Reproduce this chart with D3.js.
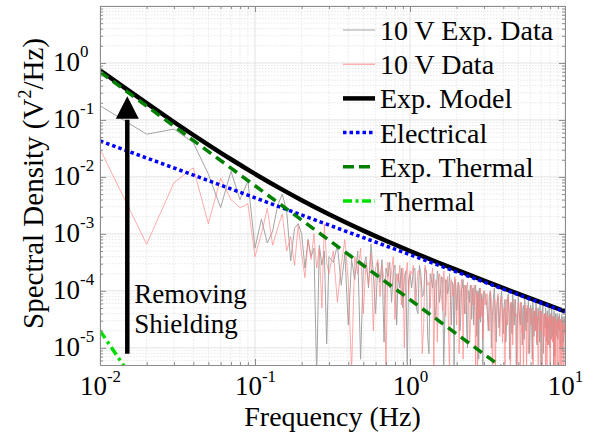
<!DOCTYPE html>
<html>
<head>
<meta charset="utf-8">
<script src="https://cdn.jsdelivr.net/npm/d3@7"></script>
<style>
  html, body { margin: 0; padding: 0; background: #fff; }
  svg { display: block; }
</style>
</head>
<body>
<svg id="chart" width="594" height="435" font-family="'Liberation Serif', 'DejaVu Serif', 'Times New Roman', Times, serif"></svg>
<script>
// ---------------- DATA ----------------
// Frequency bins (Hz) of the measured spectra
const freqSeg1 = [0.01,0.02,0.03,0.04,0.05,0.06,0.07,0.08,0.09,0.10,0.11,0.12,0.13,0.14,0.15,0.16,0.17,0.18,0.19,0.20,0.21,0.22,0.23,0.24,0.25,0.26,0.27,0.28,0.29,0.30];
const freqSeg2 = [0.32,0.34,0.36,0.38,0.40,0.42,0.44,0.46,0.48,0.50,0.52,0.54,0.56,0.58,0.60,0.62,0.64,0.66,0.68,0.70,0.72,0.74,0.76,0.78,0.80,0.82,0.84,0.86,0.88,0.90,0.92,0.94,0.96,0.98,1.00];
const freqSeg3 = [1.05,1.10,1.15,1.20,1.25,1.30,1.35,1.40,1.45,1.50,1.55,1.60,1.65,1.70,1.75,1.80,1.85,1.90,1.95,2.00,2.05,2.10,2.15,2.20,2.25,2.30,2.35,2.40,2.45,2.50,2.55,2.60,2.65,2.70,2.75,2.80,2.85,2.90,2.95,3.00];
const freqSeg4 = [3.1,3.2,3.3,3.4,3.5,3.6,3.7,3.8,3.9,4.0,4.1,4.2,4.3,4.4,4.5,4.6,4.7,4.8,4.9,5.0,5.1,5.2,5.3,5.4,5.5,5.6,5.7,5.8,5.9,6.0,6.1,6.2,6.3,6.4,6.5,6.6,6.7,6.8,6.9,7.0,7.1,7.2,7.3,7.4,7.5,7.6,7.7,7.8,7.9,8.0,8.1,8.2,8.3,8.4,8.5,8.6,8.7,8.8,8.9,9.0,9.1,9.2,9.3,9.4,9.5,9.6,9.7,9.8,9.9,10.0];
const freqSeg3b = [1.025,1.075,1.125,1.175,1.225,1.275,1.325,1.375,1.425,1.475,1.525,1.575,1.625,1.675,1.725,1.775,1.825,1.875,1.925,1.975,2.025,2.075,2.125,2.175,2.225,2.275,2.325,2.375,2.425,2.475,2.525,2.575,2.625,2.675,2.725,2.775,2.825,2.875,2.925,2.975];
const freqSeg4b = [3.05,3.15,3.25,3.35,3.45,3.55,3.65,3.75,3.85,3.95,4.05,4.15,4.25,4.35,4.45,4.55,4.65,4.75,4.85,4.95,5.05,5.15,5.25,5.35,5.45,5.55,5.65,5.75,5.85,5.95,6.05,6.15,6.25,6.35,6.45,6.55,6.65,6.75,6.85,6.95,7.05,7.15,7.25,7.35,7.45,7.55,7.65,7.75,7.85,7.95,8.05,8.15,8.25,8.35,8.45,8.55,8.65,8.75,8.85,8.95,9.05,9.15,9.25,9.35,9.45,9.55,9.65,9.75,9.85,9.95];

// "10 V Exp. Data" spectral density, log10(V^2/Hz) (seg1..seg4)
const expDataLog10 = [
  -0.75,-1.25,-1.16,-1.40,-1.95,-2.54,-1.90,-2.40,-2.07,-3.25,-2.74,-3.16,-2.95,-2.50,-2.30,-2.60,-3.47,-2.90,-2.82,-3.00,-3.60,-3.10,-3.40,-3.25,-5.50,-3.20,-3.55,-3.30,-4.93,-3.40,
  -3.50,-3.20,-3.90,-3.35,-4.60,-3.45,-3.80,-3.30,-5.20,-3.60,-3.40,-3.95,-3.18,-3.70,-4.40,-3.50,-3.85,-3.45,-4.90,-3.60,-3.75,-3.50,-4.20,-3.65,-3.55,-4.60,-3.70,-3.95,-3.60,-4.30,-3.75,-3.65,-5.40,-3.80,-3.70,
  -3.65,-4.30,-3.55,-4.10,-3.60,-4.80,-3.70,-3.95,-4.50,-3.65,-4.20,-3.75,-5.40,-3.80,-4.05,-3.70,-4.60,-3.90,-3.80,-4.35,-3.85,-4.70,-3.95,-3.80,-4.40,-3.90,-5.00,-4.00,-3.90,-4.50,-3.95,-4.25,-3.90,-4.80,-4.00,-3.95,-4.55,-4.05,-5.30,-4.00,
  -4.15,-4.70,-4.00,-4.45,-3.95,-4.90,-4.10,-4.40,-4.00,-4.75,-4.15,-4.55,-4.05,-5.20,-4.20,-4.05,-4.60,-4.15,-4.85,-4.10,-4.50,-4.20,-4.95,-4.25,-4.10,-4.70,-4.30,-4.15,-5.10,-4.25,-4.60,-4.20,-4.80,-4.35,-4.20,-4.95,-4.30,-4.65,-4.25,-5.30,-4.35,-4.25,-4.75,-4.40,-4.30,-4.90,-4.35,-4.70,-4.30,-5.00,-4.40,-4.30,-4.80,-4.45,-4.35,-5.15,-4.40,-4.75,-4.40,-4.85,-4.45,-4.40,-4.95,-4.50,-4.42,-5.05,-4.45,-4.80,-4.45,-4.60
];
const expDataLog10b = [
  -3.95,-3.60,-4.40,-3.70,-4.05,-3.65,-5.10,-3.80,-3.70,-4.25,-3.75,-4.00,-3.80,-4.55,-3.85,-3.95,-4.15,-3.85,-5.30,-3.90,
  -4.05,-3.90,-4.45,-3.95,-4.10,-3.95,-4.75,-4.00,-4.20,-4.00,-4.05,-4.60,-4.05,-4.15,-4.05,-5.20,-4.10,-4.30,-4.10,-4.40,
  -4.05,-4.35,-4.10,-5.00,-4.15,-4.30,-4.20,-4.65,-4.15,-4.40,-4.25,-4.90,-4.20,-4.40,-4.25,-4.75,-4.30,-4.25,-5.30,-4.35,
  -4.30,-4.60,-4.35,-4.30,-4.85,-4.40,-4.35,-4.55,-4.40,-4.75,-4.35,-5.20,-4.40,-4.45,-4.70,-4.40,-4.55,-4.45,-4.90,-4.45,
  -4.50,-4.40,-5.10,-4.45,-4.65,-4.50,-4.45,-4.95,-4.50,-4.60,-4.50,-4.85,-4.50,-4.45,-5.30,-4.55,-4.65,-4.50,-4.80,-4.55,
  -4.50,-4.70,-4.55,-5.00,-4.55,-4.65,-4.50,-4.90,-4.55,-4.70
];

// "10 V Data" spectral density, log10(V^2/Hz) (seg1..seg4)
const dataLog10 = [
  -1.51,-3.18,-2.10,-1.84,-2.82,-2.02,-2.40,-2.54,-2.47,-3.40,-3.00,-2.55,-3.20,-2.90,-2.65,-3.30,-3.05,-3.55,-2.85,-3.35,-3.77,-3.10,-3.45,-3.00,-3.60,-3.25,-4.30,-2.82,-3.50,-3.70,
  -3.30,-4.20,-3.55,-3.10,-3.85,-5.40,-3.40,-3.70,-3.25,-4.40,-3.50,-3.90,-3.35,-4.70,-3.60,-3.45,-4.10,-3.55,-3.80,-5.30,-3.50,-3.95,-3.65,-3.40,-4.50,-3.70,-3.85,-3.55,-4.25,-3.60,-5.00,-3.75,-3.50,-4.05,-3.65,
  -3.55,-4.05,-3.65,-5.10,-3.55,-3.90,-4.30,-3.60,-3.95,-4.90,-3.70,-4.15,-3.65,-4.45,-3.75,-5.40,-3.80,-4.10,-3.75,-4.60,-3.85,-4.20,-3.80,-5.20,-3.90,-4.35,-3.85,-4.15,-4.70,-3.90,-4.25,-3.90,-5.30,-4.00,-4.05,-4.50,-3.95,-4.30,-4.85,-4.00,
  -4.10,-4.60,-4.00,-5.50,-4.15,-4.45,-4.05,-4.80,-4.10,-4.50,-5.50,-4.15,-4.10,-4.70,-4.20,-4.95,-4.15,-4.45,-5.50,-4.20,-4.55,-4.20,-4.75,-5.50,-4.25,-4.50,-4.25,-5.10,-4.30,-4.60,-4.30,-5.50,-4.35,-4.70,-4.30,-4.55,-5.50,-4.35,-4.65,-4.35,-5.20,-4.40,-4.75,-4.40,-5.50,-4.45,-4.40,-4.85,-4.45,-5.50,-4.50,-4.40,-4.90,-4.45,-5.50,-4.45,-4.70,-4.50,-5.50,-4.55,-4.45,-4.95,-4.50,-5.50,-4.50,-4.75,-4.55,-5.50,-4.60,-4.50
];
const dataLog10b = [
  -3.70,-4.20,-3.65,-3.90,-4.60,-3.70,-3.85,-3.75,-5.30,-3.80,-4.10,-3.80,-4.35,-3.85,-3.95,-4.80,-3.90,-4.00,-3.90,-4.25,
  -3.95,-5.10,-4.00,-4.05,-3.95,-4.40,-4.00,-4.15,-4.90,-4.05,-4.10,-4.05,-4.35,-4.10,-5.40,-4.15,-4.20,-4.45,-4.15,-4.60,
  -4.25,-4.05,-4.70,-4.15,-4.40,-5.50,-4.20,-4.35,-4.25,-4.90,-4.30,-4.20,-4.60,-4.25,-5.50,-4.30,-4.55,-4.30,-4.40,-5.00,
  -4.35,-5.50,-4.35,-4.60,-4.40,-4.35,-5.50,-4.40,-4.80,-4.45,-4.40,-4.65,-5.50,-4.45,-4.50,-4.90,-4.45,-5.50,-4.50,-4.70,
  -4.50,-5.50,-4.55,-4.80,-4.50,-4.60,-5.50,-4.55,-4.95,-4.55,-5.50,-4.60,-4.75,-4.55,-5.00,-4.60,-5.50,-4.60,-4.85,-4.60,
  -4.65,-5.50,-4.60,-4.90,-4.65,-5.50,-4.70,-4.65,-5.50,-4.75
];

// Model curves (frequency Hz, V^2/Hz)
const expModelFreq  = [0.01,0.015,0.02,0.03,0.05,0.07,0.1,0.15,0.2,0.3,0.5,0.7,1,1.5,2,3,5,7,10];
const expModelValue = [0.743,0.340,0.197,0.0921,0.0366,0.0204,0.0113,0.00598,0.0039,0.00221,0.00114,0.000757,0.0005,0.000318,0.000233,0.000151,0.0000888,0.0000628,0.0000437];
const electricalFreq  = [0.01,10];
const electricalValue = [0.043,0.000043];
const expThermalFreq  = [0.01,10];
const expThermalValue = [0.70,0.0000007];
const thermalFreq  = [0.01,0.02];
const thermalValue = [0.00002,0.00000125];

// Axis ticks
const xTickValues = [0.01,0.1,1,10];
const xTickExponents = ["-2","-1","0","1"];
const yTickValues = [1e-5,1e-4,1e-3,1e-2,1e-1,1];
const yTickExponents = ["-5","-4","-3","-2","-1","0"];

// Legend entries
const legendLabels = ["10 V Exp. Data","10 V Data","Exp. Model","Electrical","Exp. Thermal","Thermal"];

// Annotation
const arrowFreq = 0.015;
const arrowFrom = 0.0000079;
const arrowTip = 0.26;
const arrowHeadBase = 0.105;
const annotationLines = ["Removing","Shielding"];
const annotationValues = [0.000062,0.000018];

// ---------------- CHART ----------------
const svg = d3.select("#chart");
const L = 100, R = 565, T = 6, B = 365;

const x = d3.scaleLog().domain([0.01, 10]).range([L, R]);
const y = d3.scaleLog().domain([5e-6, 10]).range([B, T]);

const freqMain = freqSeg1.concat(freqSeg2, freqSeg3, freqSeg4);
const freqExtra = freqSeg3b.concat(freqSeg4b);
function pairs(mainVals, extraVals) {
  const p = freqMain.map((f, i) => [f, mainVals[i]]).concat(freqExtra.map((f, i) => [f, extraVals[i]]));
  return p.sort((a, b) => a[0] - b[0]);
}

// clip
svg.append("defs").append("clipPath").attr("id", "plotclip")
  .append("rect").attr("x", L).attr("y", T).attr("width", R - L).attr("height", B - T);

// grid
const minorX = [], minorY = [];
[0.01, 0.1, 1].forEach(d => { for (let k = 2; k <= 9; k++) minorX.push(d * k); });
[1e-6, 1e-5, 1e-4, 1e-3, 1e-2, 1e-1, 1].forEach(d => { for (let k = 2; k <= 9; k++) { const v = d * k; if (v > 5e-6 && v < 10) minorY.push(v); } });
const majorY = [1e-5,1e-4,1e-3,1e-2,1e-1,1,10];

const grid = svg.append("g");
grid.selectAll(".gmx").data(minorX).join("line")
  .attr("x1", d => x(d)).attr("x2", d => x(d)).attr("y1", T).attr("y2", B)
  .attr("stroke", "#e2e2e2").attr("stroke-width", 0.8).attr("stroke-dasharray", "1.5,1.5");
grid.selectAll(".gmy").data(minorY).join("line")
  .attr("y1", d => y(d)).attr("y2", d => y(d)).attr("x1", L).attr("x2", R)
  .attr("stroke", "#e2e2e2").attr("stroke-width", 0.8).attr("stroke-dasharray", "1.5,1.5");
grid.selectAll(".gMx").data(xTickValues).join("line")
  .attr("x1", d => x(d)).attr("x2", d => x(d)).attr("y1", T).attr("y2", B)
  .attr("stroke", "#dadada").attr("stroke-width", 0.8);
grid.selectAll(".gMy").data(majorY).join("line")
  .attr("y1", d => y(d)).attr("y2", d => y(d)).attr("x1", L).attr("x2", R)
  .attr("stroke", "#dadada").attr("stroke-width", 0.8);

// series
const plot = svg.append("g").attr("clip-path", "url(#plotclip)");
const lineLog = d3.line().x(d => x(d[0])).y(d => y(Math.pow(10, d[1])));
const lineLin = d3.line().x(d => x(d[0])).y(d => y(d[1]));

plot.append("path").datum(pairs(expDataLog10, expDataLog10b))
  .attr("d", lineLog).attr("fill", "none").attr("stroke", "#a4a4a4").attr("stroke-width", 1).attr("stroke-linejoin", "round");
plot.append("path").datum(pairs(dataLog10, dataLog10b))
  .attr("d", lineLog).attr("fill", "none").attr("stroke", "#ff8080").attr("stroke-opacity", 0.65).attr("stroke-width", 1).attr("stroke-linejoin", "round");

plot.append("path").datum(expModelFreq.map((f, i) => [f, expModelValue[i]]))
  .attr("d", lineLin.curve(d3.curveMonotoneX)).attr("fill", "none").attr("stroke", "#000").attr("stroke-width", 4.5);
lineLin.curve(d3.curveLinear);
plot.append("path").datum(electricalFreq.map((f, i) => [f, electricalValue[i]]))
  .attr("d", lineLin).attr("fill", "none").attr("stroke", "#0000ff").attr("stroke-width", 3.5).attr("stroke-dasharray", "3.5,3");
plot.append("path").datum(expThermalFreq.map((f, i) => [f, expThermalValue[i]]))
  .attr("d", lineLin).attr("fill", "none").attr("stroke", "#008000").attr("stroke-width", 3.5).attr("stroke-dasharray", "10,6");
plot.append("path").datum(thermalFreq.map((f, i) => [f, thermalValue[i]]))
  .attr("d", lineLin).attr("fill", "none").attr("stroke", "#00e000").attr("stroke-width", 3.5).attr("stroke-dasharray", "9,4,3,4");

// axes (MATLAB style, ticks inside on all sides)
const axisColor = "#8c8c8c";
function styleAxis(g) {
  g.selectAll(".domain").attr("stroke", axisColor);
  g.selectAll(".tick line").attr("stroke", axisColor);
  g.selectAll(".tick text").remove();
}
svg.append("g").attr("transform", `translate(0,${B})`)
  .call(d3.axisBottom(x).tickValues(minorX).tickSize(-3).tickFormat("").tickSizeOuter(0)).call(styleAxis);
svg.append("g").attr("transform", `translate(0,${T})`)
  .call(d3.axisTop(x).tickValues(minorX).tickSize(-3).tickFormat("").tickSizeOuter(0)).call(styleAxis);
svg.append("g").attr("transform", `translate(${L},0)`)
  .call(d3.axisLeft(y).tickValues(minorY).tickSize(-3).tickFormat("").tickSizeOuter(0)).call(styleAxis);
svg.append("g").attr("transform", `translate(${R},0)`)
  .call(d3.axisRight(y).tickValues(minorY).tickSize(-3).tickFormat("").tickSizeOuter(0)).call(styleAxis);

const xAxisG = svg.append("g").attr("transform", `translate(0,${B})`)
  .call(d3.axisBottom(x).tickValues(xTickValues).tickSize(-6).tickSizeOuter(0).tickFormat(""));
styleAxis(xAxisG);
svg.append("g").attr("transform", `translate(0,${T})`)
  .call(d3.axisTop(x).tickValues(xTickValues).tickSize(-6).tickSizeOuter(0).tickFormat("")).call(styleAxis);
const yAxisG = svg.append("g").attr("transform", `translate(${L},0)`)
  .call(d3.axisLeft(y).tickValues(yTickValues).tickSize(-6).tickSizeOuter(0).tickFormat(""));
styleAxis(yAxisG);
svg.append("g").attr("transform", `translate(${R},0)`)
  .call(d3.axisRight(y).tickValues(yTickValues).tickSize(-6).tickSizeOuter(0).tickFormat("")).call(styleAxis);

// d3 axes set their own font-family; restore the serif face
svg.selectAll("g").attr("font-family", null);

// tick labels with superscript exponents
xAxisG.selectAll(".tick").each(function(d, i) {
  const t = d3.select(this).append("text")
    .attr("y", 30).attr("text-anchor", "middle").attr("font-size", 27).attr("fill", "#000");
  t.append("tspan").text("10");
  t.append("tspan").attr("font-size", 17).attr("dy", -13).text(xTickExponents[i]);
});
yAxisG.selectAll(".tick").each(function(d, i) {
  const t = d3.select(this).append("text")
    .attr("x", -47).attr("y", 8).attr("text-anchor", "start").attr("font-size", 27).attr("fill", "#000");
  t.append("tspan").text("10");
  t.append("tspan").attr("font-size", 17).attr("dy", -14).text(yTickExponents[i]);
});

// axis titles
svg.append("text").attr("x", (L + R) / 2).attr("y", 426).attr("text-anchor", "middle")
  .attr("font-size", 28).text("Frequency (Hz)");
const yl = svg.append("text").attr("transform", `translate(43,${(T + B) / 2 - 2}) rotate(-90)`)
  .attr("text-anchor", "middle").attr("font-size", 29);
yl.append("tspan").text("Spectral Density (V");
yl.append("tspan").attr("font-size", 18).attr("dy", -12).text("2");
yl.append("tspan").attr("dy", 12).text("/Hz)");

// annotation arrow
const ax = x(arrowFreq);
svg.append("line").attr("x1", ax).attr("x2", ax).attr("y1", y(arrowFrom)).attr("y2", y(arrowHeadBase) + 1)
  .attr("stroke", "#000").attr("stroke-width", 4.5);
svg.append("path")
  .attr("d", `M${ax},${y(arrowTip)} L${ax - 11.5},${y(arrowHeadBase)} L${ax + 11.5},${y(arrowHeadBase)} Z`)
  .attr("fill", "#000");
annotationLines.forEach((s, i) => {
  svg.append("text").attr("x", ax + 7).attr("y", y(annotationValues[i])).attr("font-size", 27).text(s);
});

// legend
const legendStyles = [
  {stroke: "#a4a4a4", w: 1, dash: null},
  {stroke: "#ff9090", w: 1, dash: null},
  {stroke: "#000", w: 4.5, dash: null},
  {stroke: "#0000ff", w: 3.5, dash: "3.5,3"},
  {stroke: "#008000", w: 3.5, dash: "11,5"},
  {stroke: "#00e000", w: 3.5, dash: "9,3.5,3,3.5"}
];
const lg = svg.append("g");
legendLabels.forEach((lab, i) => {
  const by = 40 + i * 34.2;
  const st = legendStyles[i];
  lg.append("line").attr("x1", 343).attr("x2", 375).attr("y1", by - 10).attr("y2", by - 10)
    .attr("stroke", st.stroke).attr("stroke-width", st.w).attr("stroke-dasharray", st.dash);
  lg.append("text").attr("x", 380).attr("y", by).attr("font-size", 28).text(lab);
});
</script>
</body>
</html>
